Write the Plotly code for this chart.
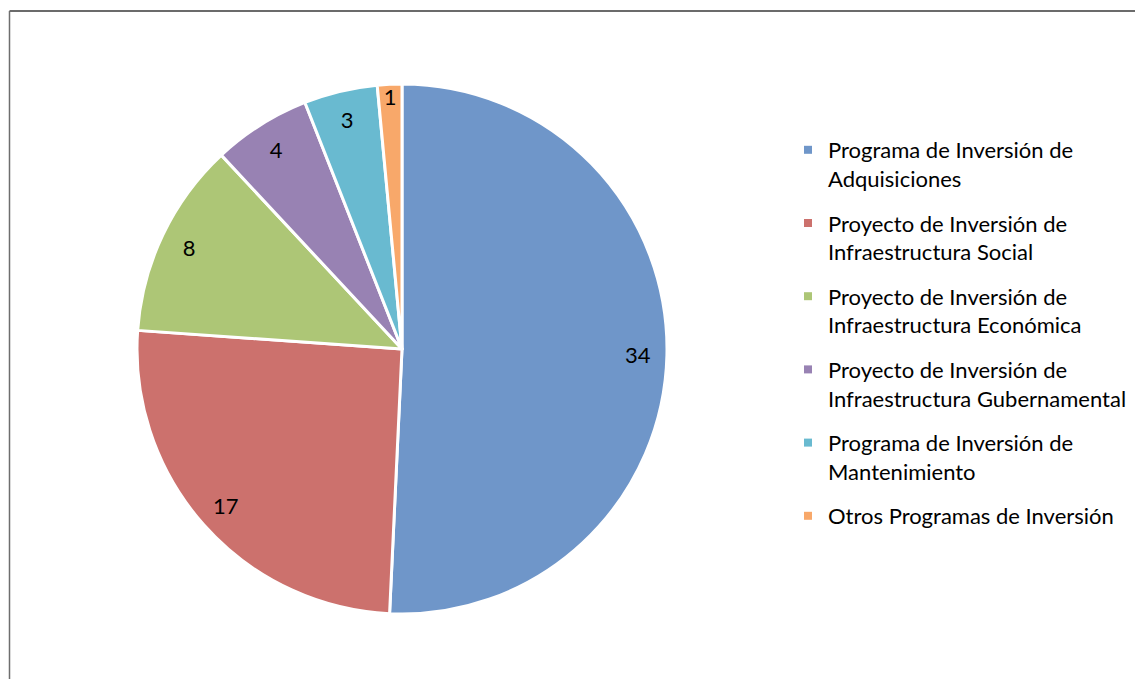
import plotly.graph_objects as go

labels = [
    "Programa de Inversión de<br>Adquisiciones",
    "Proyecto de Inversión de<br>Infraestructura Social",
    "Proyecto de Inversión de<br>Infraestructura Económica",
    "Proyecto de Inversión de<br>Infraestructura Gubernamental",
    "Programa de Inversión de<br>Mantenimiento",
    "Otros Programas de Inversión",
]
values = [34, 17, 8, 4, 3, 1]
colors = ["#6f96c9", "#cc716d", "#adc676", "#9882b3", "#69bad0", "#f8a86a"]

W, H = 1143, 679
OFF = 8  # page offset of the plot in the browser
cx, cy, R = 402 - OFF, 349 - OFF, 265
dom_x = [(cx - R) / W, (cx + R) / W]
dom_y = [1 - (cy + R) / H, 1 - (cy - R) / H]

fig = go.Figure()
fig.add_trace(go.Pie(
    labels=labels, values=values, sort=False, direction="clockwise", rotation=0,
    marker=dict(colors=colors, line=dict(color="white", width=3)),
    textinfo="none", hoverinfo="label+value", showlegend=False,
    domain=dict(x=dom_x, y=dom_y),
))
fig.add_trace(go.Pie(
    labels=labels, values=values, sort=False, direction="clockwise", rotation=0,
    hole=0.78, showlegend=False,
    marker=dict(colors=["rgba(0,0,0,0)"] * len(values), line=dict(width=0)),
    textinfo="value", textposition="inside", insidetextorientation="horizontal",
    textfont=dict(family="Lato, sans-serif", size=22, color="black"),
    hoverinfo="skip",
    domain=dict(x=dom_x, y=dom_y),
))

# legend entries (one per slice)
for lab, col in zip(labels, colors):
    fig.add_trace(go.Scatter(
        x=[None], y=[None], mode="markers", name=lab, legendgroup=lab,
        marker=dict(symbol="square", size=8, color=col),
        hoverinfo="skip",
    ))

fig.update_layout(
    width=W, height=H,
    margin=dict(l=0, r=0, t=0, b=0),
    paper_bgcolor="white", plot_bgcolor="white",
    showlegend=True,
    uniformtext=dict(minsize=22, mode="show"),
    xaxis=dict(visible=False), yaxis=dict(visible=False),
    legend=dict(
        x=(829 - OFF - 41) / W, y=1 - (150 - OFF - 21) / H, xanchor="left", yanchor="top",
        font=dict(family="Lato, sans-serif", size=22, color="black"),
        valign="top", traceorder="grouped", tracegroupgap=13,
    ),
    shapes=[
        dict(type="line", xref="paper", yref="paper", x0=(9.5 - OFF) / W, x1=1.01,
             y0=1 - (11 - OFF) / H, y1=1 - (11 - OFF) / H,
             line=dict(color="#3a3a3a", width=1.5)),
        dict(type="line", xref="paper", yref="paper", x0=(9.5 - OFF) / W, x1=(9.5 - OFF) / W,
             y0=1 - (11 - OFF) / H, y1=-0.02,
             line=dict(color="#6e6e6e", width=1.5)),
    ],
)

fig.write_html("out.html")
